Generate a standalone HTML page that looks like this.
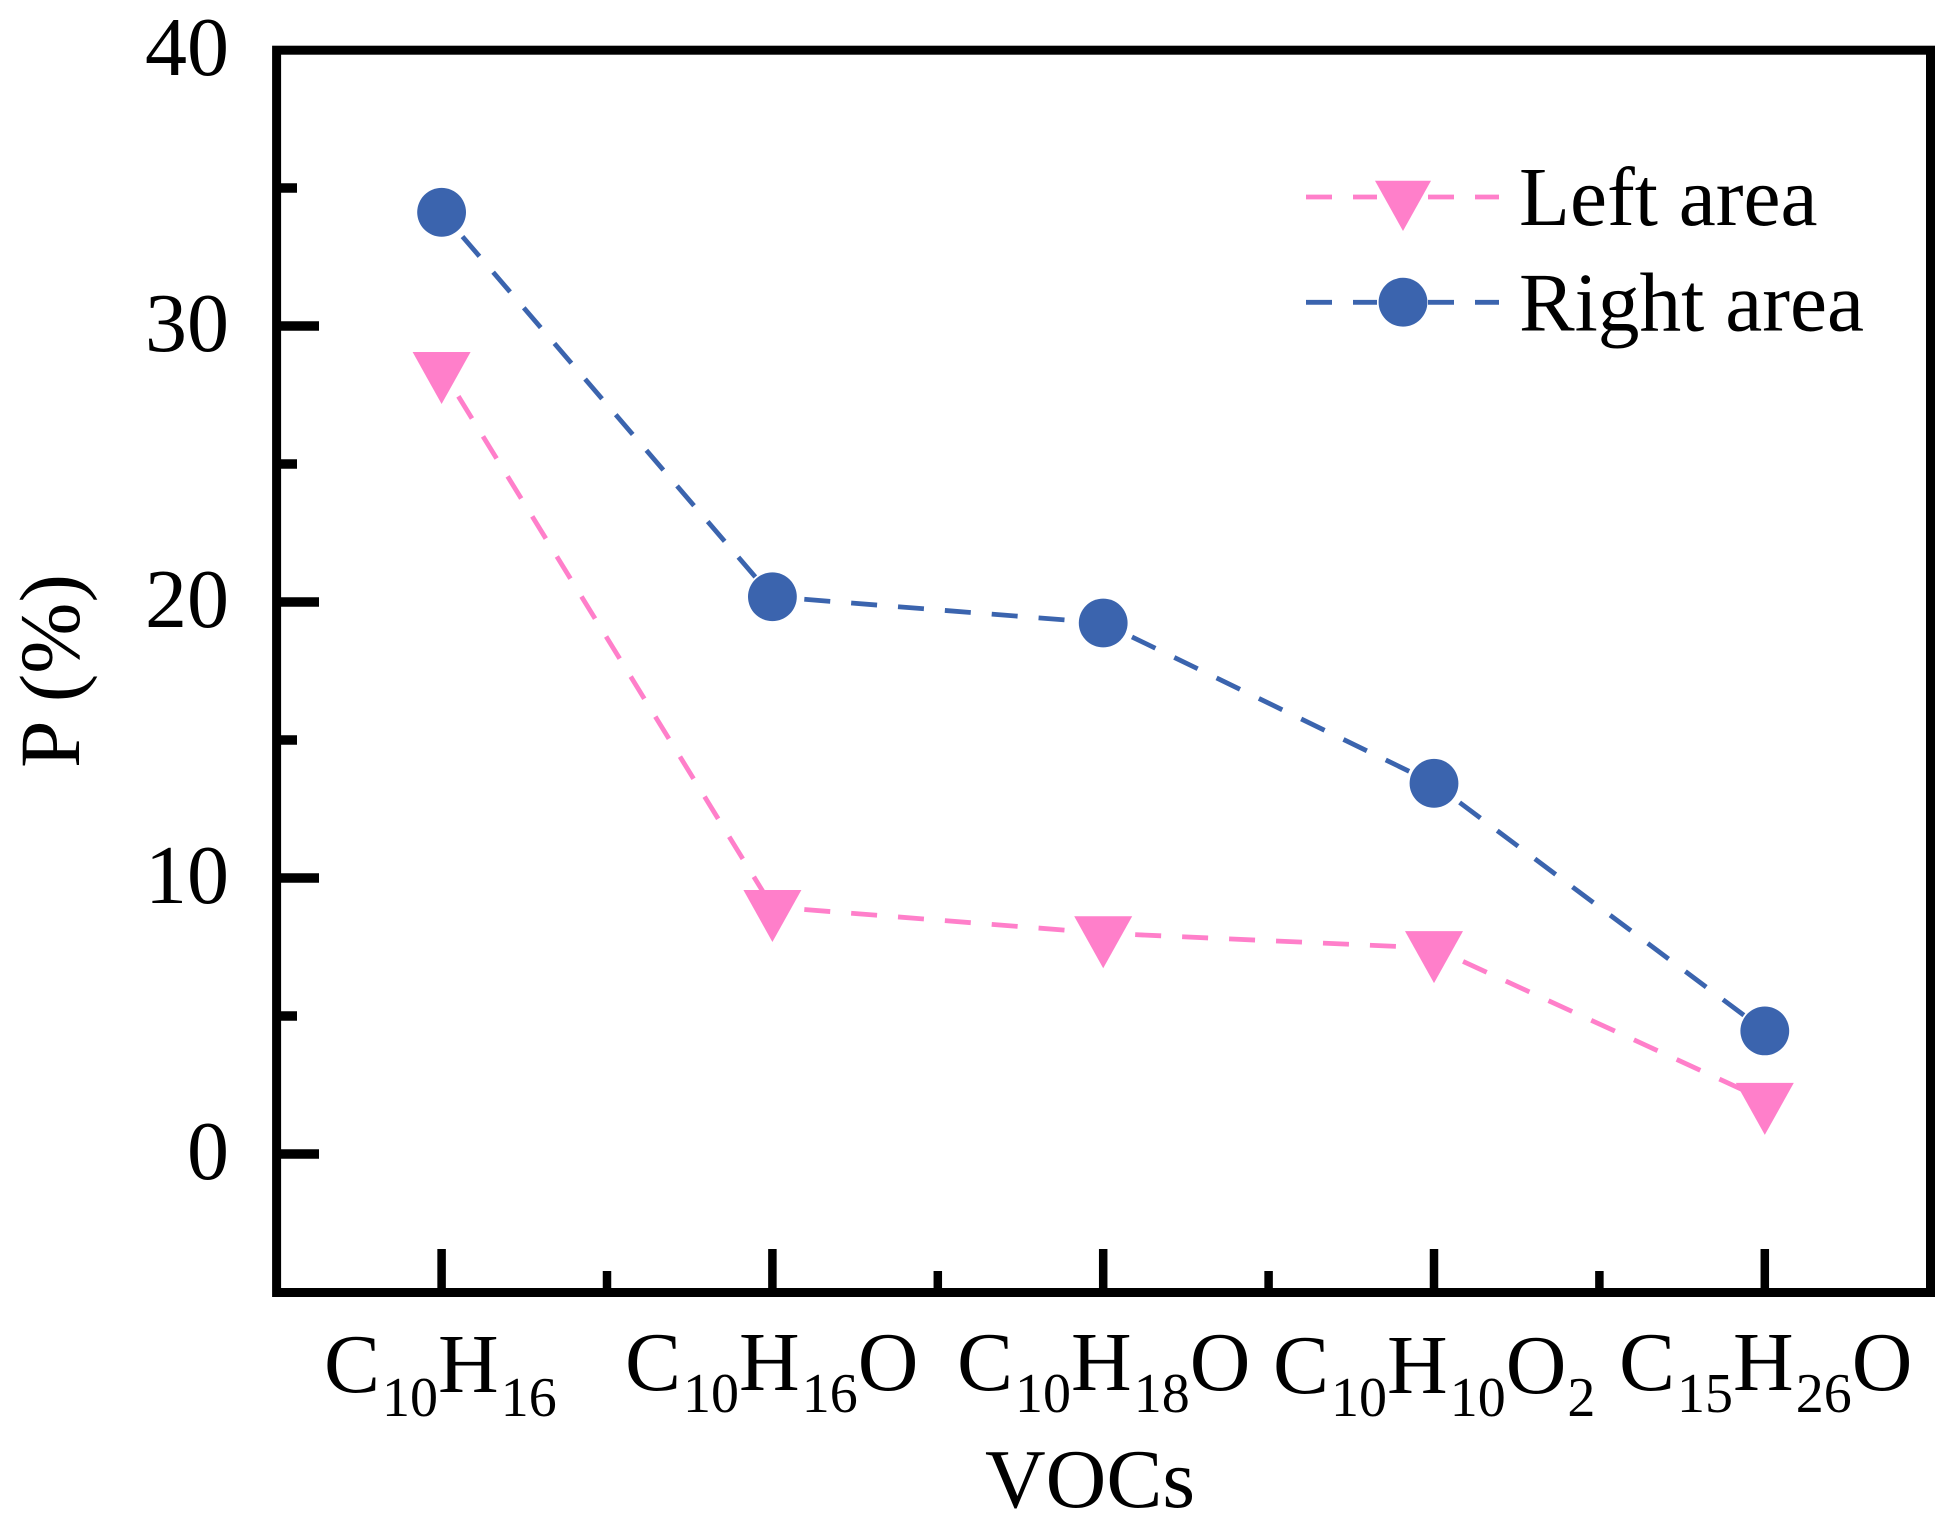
<!DOCTYPE html>
<html lang="en">
<head>
<meta charset="utf-8">
<title>VOCs P (%) chart</title>
<style>
html,body{margin:0;padding:0;background:#fff;width:1957px;height:1535px;overflow:hidden}
svg{display:block}
text{font-family:"Liberation Serif","Times New Roman",serif;font-size:84px;fill:#000}
.sub{font-size:56px}
.legend-text{font-size:83.4px}
.y-title{font-size:85.5px}
</style>
</head>
<body>
<svg id="chart" xmlns="http://www.w3.org/2000/svg" width="1957" height="1535" viewBox="0 0 1957 1535">
  <rect x="0" y="0" width="1957" height="1535" fill="#fff"/>
  <g id="ticks"></g>
  <g id="ytick-labels"></g>
  <rect x="276.6" y="50.2" width="1653.9" height="1242.3" fill="none" stroke="#000" stroke-width="9"/>
  <g id="series"></g>

  <g>
    <text x="324" y="1392">C<tspan class="sub" dx="2" dy="24">10</tspan><tspan dy="-24">H</tspan><tspan class="sub" dx="2" dy="24">16</tspan></text>
    <text x="625" y="1390">C<tspan class="sub" dx="2" dy="22">10</tspan><tspan dy="-22">H</tspan><tspan class="sub" dx="2" dy="22">16</tspan><tspan dy="-22">O</tspan></text>
    <text x="957" y="1390">C<tspan class="sub" dx="2" dy="22">10</tspan><tspan dy="-22">H</tspan><tspan class="sub" dx="2" dy="22">18</tspan><tspan dy="-22">O</tspan></text>
    <text x="1273" y="1393">C<tspan class="sub" dx="2" dy="23">10</tspan><tspan dy="-23">H</tspan><tspan class="sub" dx="2" dy="23">10</tspan><tspan dy="-23">O</tspan><tspan class="sub" dx="1" dy="23">2</tspan></text>
    <text x="1619" y="1390">C<tspan class="sub" dx="2" dy="22">15</tspan><tspan dy="-22">H</tspan><tspan class="sub" dx="2" dy="22">26</tspan><tspan dy="-22">O</tspan></text>
  </g>
  <text x="985" y="1507">VOCs</text>
  <text class="y-title" transform="translate(79,768) rotate(-90)" x="0" y="0">P (%)</text>

  <g>
    <g>
      <line x1="1306" y1="197" x2="1377" y2="197" stroke="#FF7FCA" stroke-width="4.8" stroke-dasharray="26 21"/>
      <line x1="1428" y1="197" x2="1499" y2="197" stroke="#FF7FCA" stroke-width="4.8" stroke-dasharray="26 21"/>
      <polygon points="1375,180.7 1431,180.7 1403,231" fill="#FF7FCA"/>
      <text class="legend-text" x="1519" y="225">Left area</text>
    </g>
    <g>
      <line x1="1306" y1="302.3" x2="1377" y2="302.3" stroke="#3B64AE" stroke-width="4.8" stroke-dasharray="26 21"/>
      <line x1="1428" y1="302.3" x2="1499" y2="302.3" stroke="#3B64AE" stroke-width="4.8" stroke-dasharray="26 21"/>
      <circle cx="1403" cy="302.2" r="24.4" fill="#3B64AE"/>
      <text class="legend-text" x="1519" y="330.5">Right area</text>
    </g>
  </g>
</svg>

<script>
const categories = ["C10H16", "C10H16O", "C10H18O", "C10H10O2", "C15H26O"];
const leftArea = [28.44, 8.95, 8.0, 7.46, 1.96];
const rightArea = [34.12, 20.19, 19.24, 13.43, 4.46];
const yMajorTicks = [0, 10, 20, 30, 40];
const yMinorTicks = [5, 15, 25, 35];
const yTickLabels = ["0", "10", "20", "30", "40"];

const NS = "http://www.w3.org/2000/svg";
const PINK = "#FF7FCA";
const BLUE = "#3B64AE";
const Y_MAX = 40;

function xScale(i) { return 276.2 + (i + 0.5) * 330.8; }
function yScale(v) { return 1154 - v * 27.6; }

const ticksG = document.getElementById("ticks");
const labelsG = document.getElementById("ytick-labels");
const seriesG = document.getElementById("series");

function makeLine(parent, x1, y1, x2, y2, color, width) {
  const l = document.createElementNS(NS, "line");
  l.setAttribute("x1", x1);
  l.setAttribute("y1", y1);
  l.setAttribute("x2", x2);
  l.setAttribute("y2", y2);
  l.setAttribute("stroke", color);
  l.setAttribute("stroke-width", width);
  parent.appendChild(l);
  return l;
}

yMajorTicks.forEach(function (v, i) {
  if (v < Y_MAX) {
    const t = makeLine(ticksG, 276.6, yScale(v), 319, yScale(v), "#000", 9.5);
    
    
  }
  const label = document.createElementNS(NS, "text");
  label.setAttribute("x", 229);
  label.setAttribute("y", yScale(v) + 25);
  label.setAttribute("text-anchor", "end");
  label.textContent = yTickLabels[i];
  
  
  labelsG.appendChild(label);
});

yMinorTicks.forEach(function (v) {
  const t = makeLine(ticksG, 276.6, yScale(v), 297, yScale(v), "#000", 9.5);
  
  
});

categories.forEach(function (c, i) {
  const t = makeLine(ticksG, xScale(i), 1292.5, xScale(i), 1249, "#000", 8.5);
  
  
  if (i < categories.length - 1) {
    const m = makeLine(ticksG, xScale(i + 0.5), 1292.5, xScale(i + 0.5), 1271, "#000", 8.5);
    
    
  }
});

function drawSegments(values, color, groupName) {
  const g = document.createElementNS(NS, "g");
  
  
  seriesG.appendChild(g);
  for (let i = 0; i < values.length - 1; i++) {
    const s = makeLine(g, xScale(i), yScale(values[i]), xScale(i + 1), yScale(values[i + 1]), color, 4.8);
    s.setAttribute("stroke-dasharray", "26 21");
    s.setAttribute("stroke-dashoffset", "15");
    
    
  }
  return g;
}

const leftG = drawSegments(leftArea, PINK, "series-left-area");
const rightG = drawSegments(rightArea, BLUE, "series-right-area");

leftArea.forEach(function (v, i) {
  const cx = xScale(i);
  const cy = yScale(v);
  const p = document.createElementNS(NS, "polygon");
  p.setAttribute("points", (cx - 29) + "," + (cy - 17) + " " + (cx + 29) + "," + (cy - 17) + " " + cx + "," + (cy + 35));
  p.setAttribute("fill", PINK);
  
  
  leftG.appendChild(p);
});

rightArea.forEach(function (v, i) {
  const c = document.createElementNS(NS, "circle");
  c.setAttribute("cx", xScale(i));
  c.setAttribute("cy", yScale(v));
  c.setAttribute("r", 24.4);
  c.setAttribute("fill", BLUE);
  
  
  rightG.appendChild(c);
});
</script>
</body>
</html>
